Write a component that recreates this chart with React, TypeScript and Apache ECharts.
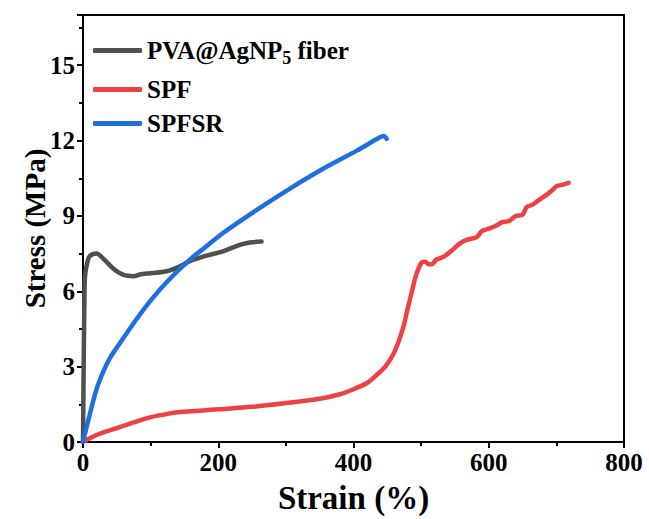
import React, { useEffect, useRef } from "react";
import * as echarts from "echarts";

const FONT = "Liberation Serif";

const seriesNames = ["PVA@AgNP5 fiber", "SPF", "SPFSR"];
const seriesColors = ["#505050", "#ef4044", "#1f6fe0"];

const pvaStrain = [0, 1, 2, 3, 6, 10, 20, 30, 45, 60, 75, 84, 100, 124, 140, 158, 180, 207, 232, 250, 264];
const pvaStress = [0, 3, 5.5, 6.6, 7.1, 7.4, 7.5, 7.3, 6.9, 6.65, 6.6, 6.67, 6.72, 6.8, 6.95, 7.2, 7.4, 7.59, 7.85, 7.95, 7.98];

const spfStrain = [0, 10, 25, 50, 75, 99, 125, 148, 200, 250, 300, 350, 380, 400, 420, 434, 447, 459, 468, 474, 480, 486, 491, 496, 501, 506, 511, 516, 522, 528, 535, 547, 557, 567, 575, 582, 590, 597, 610, 620, 630, 640, 650, 656, 665, 675, 686, 695, 700, 710, 718];
const spfStress = [0, 0.15, 0.33, 0.55, 0.78, 0.98, 1.12, 1.2, 1.3, 1.4, 1.55, 1.72, 1.9, 2.1, 2.35, 2.66, 3.0, 3.5, 4.1, 4.6, 5.3, 5.95, 6.5, 6.9, 7.15, 7.18, 7.08, 7.08, 7.25, 7.32, 7.4, 7.66, 7.9, 8.05, 8.1, 8.15, 8.4, 8.47, 8.6, 8.75, 8.8, 9.0, 9.05, 9.35, 9.45, 9.65, 9.85, 10.05, 10.18, 10.25, 10.32];

const spfsrStrain = [0, 10, 20, 30, 40, 55, 74, 99, 125, 158, 183, 207, 257, 306, 355, 405, 439, 445, 449];
const spfsrStress = [0, 1.1, 2.1, 2.8, 3.35, 3.95, 4.7, 5.6, 6.4, 7.26, 7.8, 8.32, 9.24, 10.09, 10.88, 11.6, 12.13, 12.18, 12.07];

const xTicks = { min: 0, max: 800, interval: 200 };
const yTicks = { min: 0, max: 17, interval: 3 };

const zip = (xs: number[], ys: number[]) => xs.map((x, i) => [x, ys[i]]);

export default function App() {
  const ref = useRef<HTMLDivElement>(null);
  useEffect(() => {
    if (!ref.current) return;
    const chart = echarts.init(ref.current, null, { renderer: "svg" });
    const datasets = [zip(pvaStrain, pvaStress), zip(spfStrain, spfStress), zip(spfsrStrain, spfsrStress)];
    const legendTops = [33, 72, 106];
    const legendFormatter = (name: string) =>
      name === seriesNames[0] ? "{a|PVA@AgNP}{s|5}{a| fiber}" : "{a|" + name + "}";
    const rich = {
      a: { fontFamily: FONT, fontWeight: "bold", fontSize: 25, color: "#000", lineHeight: 25 },
      s: { fontFamily: FONT, fontWeight: "bold", fontSize: 18, color: "#000", lineHeight: 10, verticalAlign: "top", padding: [11, 0, 0, 0] },
    };
    chart.setOption({
      animation: false,
      grid: { left: 83, right: 25, top: 15, bottom: 75, show: true, borderColor: "#000", borderWidth: 2, backgroundColor: "transparent" },
      legend: seriesNames.map((n, i) => ({
        data: [n],
        left: 88,
        top: legendTops[i],
        icon: "roundRect",
        itemWidth: 49,
        itemHeight: 5,
        itemGap: 4,
        formatter: legendFormatter,
        textStyle: { rich },
        selectedMode: false,
      })),
      xAxis: {
        type: "value",
        min: xTicks.min,
        max: xTicks.max,
        interval: xTicks.interval,
        name: "Strain (%)",
        nameLocation: "middle",
        nameGap: 39,
        nameMoveOverlap: false,
        nameTextStyle: { fontFamily: FONT, fontWeight: "bold", fontSize: 33, color: "#000" },
        axisLine: { show: true, lineStyle: { color: "#000", width: 2 } },
        axisTick: { show: true, length: 6, lineStyle: { color: "#000", width: 2 } },
        minorTick: { show: true, splitNumber: 2, length: 4, lineStyle: { color: "#000", width: 2 } },
        splitLine: { show: false },
        axisLabel: { fontFamily: FONT, fontWeight: "bold", fontSize: 25, color: "#000", margin: 8 },
      },
      yAxis: {
        type: "value",
        min: yTicks.min,
        max: yTicks.max,
        interval: yTicks.interval,
        name: "Stress (MPa)",
        nameLocation: "middle",
        nameGap: 34,
        nameMoveOverlap: false,
        nameTextStyle: { fontFamily: FONT, fontWeight: "bold", fontSize: 29, color: "#000" },
        axisLine: { show: true, lineStyle: { color: "#000", width: 2 } },
        axisTick: { show: true, length: 6, lineStyle: { color: "#000", width: 2 } },
        minorTick: { show: true, splitNumber: 2, length: 4, lineStyle: { color: "#000", width: 2 } },
        splitLine: { show: false },
        axisLabel: { fontFamily: FONT, fontWeight: "bold", fontSize: 25, color: "#000", margin: 8, showMaxLabel: false },
      },
      series: seriesNames.map((n, i) => ({
        name: n,
        type: "line",
        data: datasets[i],
        showSymbol: false,
        symbol: "none",
        smooth: 0.3,
        color: seriesColors[i],
        lineStyle: { color: seriesColors[i], width: 4.5, cap: "round", join: "round" },
      })),
    });
    return () => chart.dispose();
  }, []);
  return <div ref={ref} style={{ width: 649, height: 519, position: "absolute", left: 0, top: 0, background: "#fff" }} />;
}
